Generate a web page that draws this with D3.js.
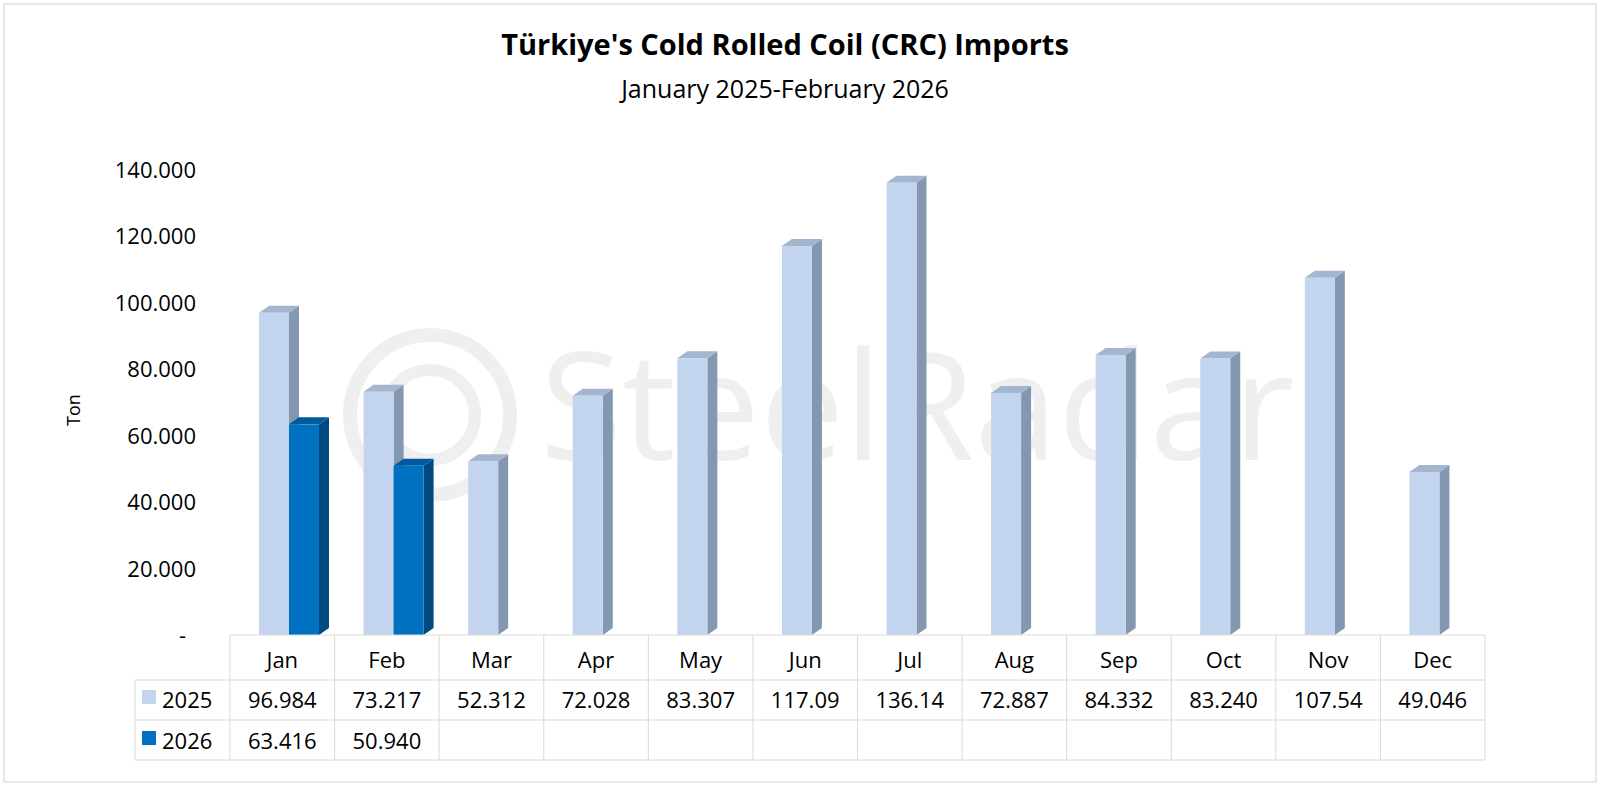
<!DOCTYPE html>
<html><head><meta charset="utf-8">
<script src="https://cdn.jsdelivr.net/npm/d3@7"></script>
<style>body{margin:0;background:#fff}svg{font-family:"Open Sans",Arial,sans-serif}</style>
</head><body><svg id="c" width="1600" height="798"></svg>
<script>
const months=["Jan","Feb","Mar","Apr","May","Jun","Jul","Aug","Sep","Oct","Nov","Dec"];
const v2025=[96984,73217,52312,72028,83307,117090,136140,72887,84332,83240,107540,49046];
const v2026=[63416,50940];
const lbl2025=["96.984","73.217","52.312","72.028","83.307","117.09","136.14","72.887","84.332","83.240","107.54","49.046"];
const lbl2026=["63.416","50.940"];
const ticks=[0,20000,40000,60000,80000,100000,120000,140000];
const tickLabels=["-","20.000","40.000","60.000","80.000","100.000","120.000","140.000"];

const svg=d3.select("#c");
svg.append("rect").attr("x",4).attr("y",4).attr("width",1592).attr("height",778).attr("fill","#fff").attr("stroke","#d0d0d0");
// watermark
const wm=svg.append("g").attr("opacity",0.09);
wm.append("circle").attr("cx",430).attr("cy",415).attr("r",80).attr("fill","none").attr("stroke","#555").attr("stroke-width",14);
wm.append("circle").attr("cx",430).attr("cy",415).attr("r",45).attr("fill","none").attr("stroke","#555").attr("stroke-width",12);
wm.append("text").attr("x",540).attr("y",460).attr("font-size",150).attr("fill","#555").text("SteelRadar");

svg.append("text").attr("x",785).attr("y",55).attr("text-anchor","middle").attr("font-size",29).attr("font-weight","bold").text("Türkiye's Cold Rolled Coil (CRC) Imports");
svg.append("text").attr("x",785).attr("y",98).attr("text-anchor","middle").attr("font-size",25).text("January 2025-February 2026");

const y=d3.scaleLinear().domain([0,140000]).range([635,170]);
const x=d3.scaleBand().domain(months).range([230,1485]);
ticks.forEach((t,i)=>svg.append("text").attr("x",t===0?186:196).attr("y",y(t)+8).attr("text-anchor","end").attr("font-size",22).text(tickLabels[i]));
svg.append("text").attr("transform","translate(80,410) rotate(-90)").attr("text-anchor","middle").attr("font-size",18).text("Ton");

const bw=30,dx=10,dy=7;
function bar(cx,v,front,side,top){
  const x0=cx,x1=cx+bw,yt=y(v),yb=y(0);
  svg.append("path").attr("d",`M${x1},${yb}L${x1+dx},${yb-dy}L${x1+dx},${yt-dy}L${x1},${yt}Z`).attr("fill",side);
  svg.append("path").attr("d",`M${x0},${yt}L${x0+dx},${yt-dy}L${x1+dx},${yt-dy}L${x1},${yt}Z`).attr("fill",top);
  svg.append("rect").attr("x",x0).attr("y",yt).attr("width",bw).attr("height",yb-yt).attr("fill",front);
}
months.forEach((m,i)=>{
  const c=x(m);
  bar(c+29,v2025[i],"#c3d5ee","#8497b0","#a4b6cf");
  if(i<v2026.length) bar(c+59,v2026[i],"#0070c0","#004a80","#005a9e");
});

// table
const g=svg.append("g").attr("stroke","#d9d9d9").attr("fill","none");
const rows=[635,680,720,760];
rows.forEach(r=>g.append("line").attr("x1",r===635?230:135).attr("x2",1485).attr("y1",r).attr("y2",r));
g.append("line").attr("x1",135).attr("x2",135).attr("y1",680).attr("y2",760);
months.forEach(m=>g.append("line").attr("x1",x(m)).attr("x2",x(m)).attr("y1",635).attr("y2",760));
g.append("line").attr("x1",1485).attr("x2",1485).attr("y1",635).attr("y2",760);
months.forEach((m,i)=>{
  const cx=x(m)+x.bandwidth()/2;
  svg.append("text").attr("x",cx).attr("y",668).attr("text-anchor","middle").attr("font-size",22).text(m);
  svg.append("text").attr("x",cx).attr("y",708).attr("text-anchor","middle").attr("font-size",22).text(lbl2025[i]);
  if(i<lbl2026.length) svg.append("text").attr("x",cx).attr("y",749).attr("text-anchor","middle").attr("font-size",22).text(lbl2026[i]);
});
svg.append("rect").attr("x",142).attr("y",690).attr("width",14).attr("height",14).attr("fill","#c3d5ee");
svg.append("text").attr("x",162).attr("y",708).attr("font-size",22).text("2025");
svg.append("rect").attr("x",142).attr("y",731).attr("width",14).attr("height",14).attr("fill","#0070c0");
svg.append("text").attr("x",162).attr("y",749).attr("font-size",22).text("2026");
</script></body></html>
